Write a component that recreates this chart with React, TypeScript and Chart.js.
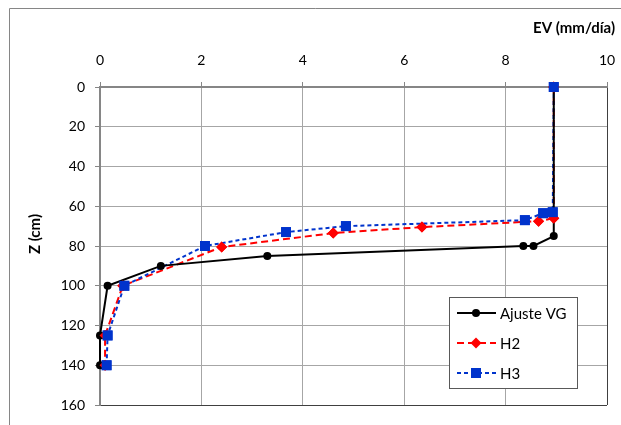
import { useEffect, useRef } from "react";
import { Chart, registerables } from "chart.js";

Chart.register(...registerables);

// ---- data ----
const seriesNames = ["Ajuste VG", "H2", "H3"];
const xTickValues = [0, 2, 4, 6, 8, 10];
const yTickValues = [0, 20, 40, 60, 80, 100, 120, 140, 160];
const xTitle = "EV (mm/día)";
const yTitle = "Z (cm)";

const vgEv = [8.95, 8.95, 8.55, 8.35, 3.3, 1.2, 0.15, 0, 0];
const vgZ = [0, 75, 80, 80, 85, 90, 100, 125, 140];

const h2Ev = [8.95, 8.95, 8.65, 6.35, 4.6, 2.4, 0.45, 0.1, 0.1];
const h2Z = [0, 66, 67.5, 70.5, 73.5, 80.5, 100, 125, 140];

const h3Ev = [8.95, 8.93, 8.74, 8.38, 4.85, 3.67, 2.07, 0.48, 0.15, 0.13];
const h3Z = [0, 63, 63.5, 67, 70, 73, 80, 100, 125, 140];

const COLORS = { vg: "#000000", h2: "#ff0000", h3: "#0033cc" };
const FONT = "Lato";

const toPts = (xs: number[], ys: number[]) => xs.map((x, i) => ({ x, y: ys[i] }));

// markers of H2 / H3 drawn above every line
const markersOnTop = {
  id: "markersOnTop",
  afterDatasetsDraw(chart: any) {
    const ctx = chart.ctx;
    [1, 2].forEach((i) => {
      const meta = chart.getDatasetMeta(i);
      meta.data.forEach((el: any) => el.draw(ctx, chart.chartArea));
    });
  },
};

const decorPlugin = {
  id: "decor",
  afterDraw(chart: any) {
    const ctx = chart.ctx as CanvasRenderingContext2D;
    const { width, height } = chart;
    ctx.save();
    // outer frame (top + left visible)
    ctx.strokeStyle = "#868686";
    ctx.lineWidth = 1;
    ctx.setLineDash([]);
    ctx.beginPath();
    ctx.moveTo(1.5, height);
    ctx.lineTo(1.5, 0.5);
    ctx.lineTo(width, 0.5);
    ctx.stroke();

    // axis titles
    ctx.fillStyle = "#000";
    ctx.font = `bold 15px ${FONT}`;
    ctx.textAlign = "right";
    ctx.textBaseline = "middle";
    ctx.fillText(xTitle, 607, 20);

    ctx.save();
    ctx.translate(27, 226);
    ctx.rotate(-Math.PI / 2);
    ctx.textAlign = "center";
    ctx.fillText(yTitle, 0, 0);
    ctx.restore();

    // legend
    const bx = 441, by = 289, bw = 128, bh = 91;
    ctx.fillStyle = "#fff";
    ctx.fillRect(bx, by, bw, bh);
    ctx.strokeStyle = "#595959";
    ctx.lineWidth = 1;
    ctx.strokeRect(bx + 0.5, by + 0.5, bw, bh);

    const rows = [305, 335, 365];
    const styles = [
      { c: COLORS.vg, dash: [] as number[], shape: "circle" },
      { c: COLORS.h2, dash: [7, 4], shape: "diamond" },
      { c: COLORS.h3, dash: [4, 3], shape: "square" },
    ];
    ctx.font = `15px ${FONT}`;
    ctx.textAlign = "left";
    rows.forEach((ry, i) => {
      const s = styles[i];
      ctx.strokeStyle = s.c;
      ctx.lineWidth = 2;
      ctx.setLineDash(s.dash);
      ctx.beginPath();
      ctx.moveTo(449, ry);
      ctx.lineTo(488, ry);
      ctx.stroke();
      ctx.setLineDash([]);
      ctx.fillStyle = s.c;
      ctx.beginPath();
      const cx = 468;
      if (s.shape === "circle") ctx.arc(cx, ry, 4, 0, Math.PI * 2);
      else if (s.shape === "diamond") {
        ctx.moveTo(cx - 5.5, ry);
        ctx.lineTo(cx, ry - 5.5);
        ctx.lineTo(cx + 5.5, ry);
        ctx.lineTo(cx, ry + 5.5);
        ctx.closePath();
      } else ctx.rect(cx - 5, ry - 5, 10, 10);
      ctx.fill();
      ctx.fillStyle = "#000";
      ctx.fillText(seriesNames[i], 492, ry + 1);
    });
    ctx.restore();
  },
};

export default function App() {
  const ref = useRef<HTMLCanvasElement | null>(null);
  useEffect(() => {
    if (!ref.current) return;
    const chart = new Chart(ref.current, {
      type: "scatter",
      data: {
        datasets: [
          {
            label: seriesNames[0],
            data: toPts(vgEv, vgZ),
            showLine: true,
            borderColor: COLORS.vg,
            backgroundColor: COLORS.vg,
            borderWidth: 2,
            pointStyle: "circle",
            pointRadius: 4,
            pointBorderWidth: 0,
            clip: false,
            order: 1,
          },
          {
            label: seriesNames[1],
            data: toPts(h2Ev, h2Z),
            showLine: true,
            borderColor: COLORS.h2,
            backgroundColor: COLORS.h2,
            borderWidth: 2,
            borderDash: [7, 4],
            pointStyle: "rectRot",
            pointRadius: 5.5,
            pointBorderWidth: 0,
            clip: false,
            order: 3,
          },
          {
            label: seriesNames[2],
            data: toPts(h3Ev, h3Z),
            showLine: true,
            borderColor: COLORS.h3,
            backgroundColor: COLORS.h3,
            borderWidth: 2,
            borderDash: [4, 3],
            pointStyle: "rect",
            pointRadius: 7,
            pointBorderWidth: 0,
            clip: false,
            order: 2,
          },
        ],
      },
      options: {
        responsive: false,
        animation: false,
        devicePixelRatio: 1,
        layout: { padding: { left: 0, right: 14, top: 0, bottom: 20 } },
        plugins: { legend: { display: false }, tooltip: { enabled: false } },
        scales: {
          x: {
            type: "linear",
            position: "top",
            min: xTickValues[0],
            max: xTickValues[xTickValues.length - 1],
            afterBuildTicks: (s: any) => {
              s.ticks = xTickValues.map((v) => ({ value: v }));
            },
            afterFit: (s: any) => {
              s.height = 79;
              s.paddingLeft = 0;
              s.paddingRight = 0;
              s.paddingTop = 0;
              s.paddingBottom = 0;
            },
            ticks: {
              font: { family: FONT, size: 14 },
              color: "#000",
              padding: 13,
            },
            grid: {
              color: (c: any) => (c.tick && c.tick.value === 10 ? "#404040" : "#a6a6a6"),
              borderDash: [4, 3],
              tickLength: 5,
              tickColor: "#868686",
              tickBorderDash: [],
              lineWidth: 1,
            },
            border: { display: true, color: "#868686", width: 2 },
            title: { display: false },
          },
          y: {
            type: "linear",
            reverse: true,
            min: yTickValues[0],
            max: yTickValues[yTickValues.length - 1],
            afterBuildTicks: (s: any) => {
              s.ticks = yTickValues.map((v) => ({ value: v }));
            },
            afterFit: (s: any) => {
              s.width = 92;
              s.paddingLeft = 0;
              s.paddingRight = 0;
              s.paddingTop = 0;
              s.paddingBottom = 0;
            },
            ticks: {
              font: { family: FONT, size: 14 },
              color: "#000",
              padding: 10,
            },
            grid: {
              color: (c: any) => (c.tick && c.tick.value === 160 ? "#404040" : "#a6a6a6"),
              borderDash: [4, 3],
              tickLength: 5,
              tickColor: "#868686",
              tickBorderDash: [],
              lineWidth: 1,
            },
            border: { display: true, color: "#868686", width: 2 },
            title: { display: false },
          },
        },
      },
      plugins: [markersOnTop, decorPlugin],
    });
    return () => chart.destroy();
  }, []);

  return (
    <div style={{ position: "fixed", left: 8, top: 8, width: 613, height: 417, background: "#fff" }}>
      <canvas ref={ref} width={613} height={417} style={{ display: "block" }} />
    </div>
  );
}
